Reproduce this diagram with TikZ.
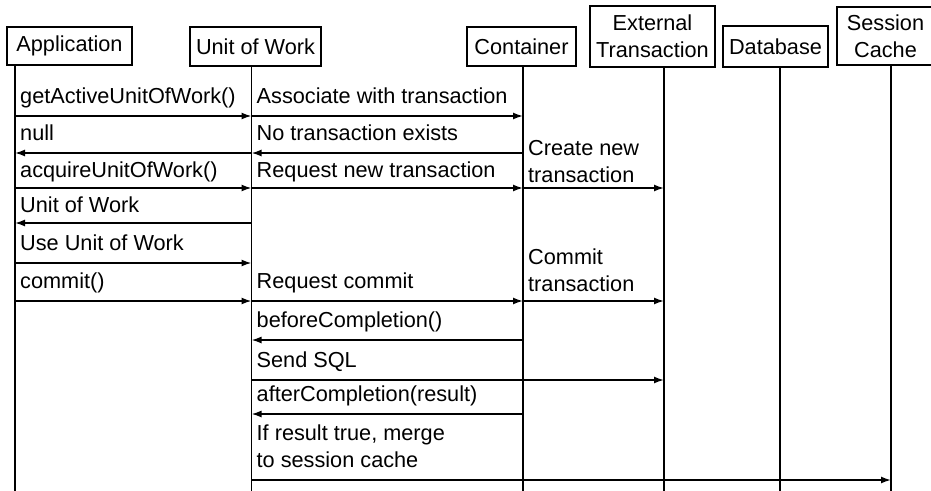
\documentclass[tikz,border=0pt]{standalone}
\usepackage{fontspec}
\setmainfont{Liberation Sans}
\usetikzlibrary{arrows.meta}
\begin{document}
\begin{tikzpicture}[x=1pt,y=-1pt,
  box/.style={draw,line width=1.6pt,inner sep=0pt,align=center,
    font=\fontsize{21.7}{27}\selectfont},
  life/.style={line width=1.6pt},
  msg/.style={line width=1.6pt,-{Latex[length=10pt,width=7pt]}},
  lbl/.style={anchor=base west,inner sep=0pt,xshift=5pt,yshift=13pt,
    font=\fontsize{21.7}{27}\selectfont},
  lbltwo/.style={anchor=south west,inner sep=0pt,xshift=5pt,align=left,
    font=\fontsize{21.7}{27}\selectfont}]
\useasboundingbox (0,0) rectangle (931,490);
% participants
\node[box,minimum width=125pt,minimum height=38pt] (app) at (69.5,46) {Application};
\node[box,minimum width=131pt,minimum height=39pt] (uow) at (255.5,46.5) {Unit of Work};
\node[box,minimum width=109pt,minimum height=39pt] (con) at (521.5,46.5) {Container};
\node[box,minimum width=125pt,minimum height=61pt] (ext) at (652.5,36.5) {External\\Transaction};
\node[box,minimum width=105pt,minimum height=41pt] (db) at (775.5,46.5) {Database};
\node[box,minimum width=97pt,minimum height=58pt] (sc) at (885.5,36) {Session\\Cache};
% lifeline x positions
\coordinate (xA) at (15,0);
\coordinate (xU) at (251.5,0);
\coordinate (xC) at (523,0);
\coordinate (xE) at (664,0);
\coordinate (xD) at (780,0);
\coordinate (xS) at (891,0);
\coordinate (bot) at (0,495);
\coordinate (lA) at (app.south -| xA);
\coordinate (lU) at (uow.south -| xU);
\coordinate (lC) at (con.south -| xC);
\coordinate (lE) at (ext.south -| xE);
\coordinate (lD) at (db.south -| xD);
\coordinate (lS) at (sc.south -| xS);
\foreach \l in {lA,lU,lC,lE,lD,lS} \draw[life] (\l) -- (\l |- bot);
% message rows
\coordinate (r1) at (0,116);
\coordinate (r2) at (0,153);
\coordinate (r3) at (0,188);
\coordinate (r4) at (0,223);
\coordinate (r5) at (0,263);
\coordinate (r6) at (0,301);
\coordinate (r7) at (0,340);
\coordinate (r8) at (0,380);
\coordinate (r9) at (0,414);
\coordinate (r10) at (0,480);
% row 1
\node[lbl] (t1a) at (lA |- r1) {getActiveUnitOfWork()};
\draw[msg] (lA |- r1) -- (lU |- r1);
\node[lbl] (t1b) at (lU |- r1) {Associate with transaction};
\draw[msg] (lU |- r1) -- (lC |- r1);
% row 2
\node[lbl] (t2a) at (lA |- r2) {null};
\draw[msg] (lU |- r2) -- (lA |- r2);
\node[lbl] (t2b) at (lU |- r2) {No transaction exists};
\draw[msg] (lC |- r2) -- (lU |- r2);
% row 3
\node[lbl,yshift=-2pt] (t3a) at (lA |- r3) {acquireUnitOfWork()};
\draw[msg] (lA |- r3) -- (lU |- r3);
\node[lbl,yshift=-2pt] (t3b) at (lU |- r3) {Request new transaction};
\draw[msg] (lU |- r3) -- (lC |- r3);
\node[lbltwo,yshift=5pt] (t3c) at (lC |- r3) {Create new\\transaction};
\draw[msg] (lC |- r3) -- (lE |- r3);
% row 4
\node[lbl,yshift=-2pt] (t4a) at (lA |- r4) {Unit of Work};
\draw[msg] (lU |- r4) -- (lA |- r4);
% row 5
\node[lbl] (t5a) at (lA |- r5) {Use Unit of Work};
\draw[msg] (lA |- r5) -- (lU |- r5);
% row 6
\node[lbl] (t6a) at (lA |- r6) {commit()};
\draw[msg] (lA |- r6) -- (lU |- r6);
\node[lbl] (t6b) at (lU |- r6) {Request commit};
\draw[msg] (lU |- r6) -- (lC |- r6);
\node[lbltwo,yshift=9pt] (t6c) at (lC |- r6) {Commit\\transaction};
\draw[msg] (lC |- r6) -- (lE |- r6);
% row 7
\node[lbl] (t7) at (lU |- r7) {beforeCompletion()};
\draw[msg] (lC |- r7) -- (lU |- r7);
% row 8
\node[lbl] (t8) at (lU |- r8) {Send SQL};
\draw[msg] (lU |- r8) -- (lE |- r8);
% row 9
\node[lbl] (t9) at (lU |- r9) {afterCompletion(result)};
\draw[msg] (lC |- r9) -- (lU |- r9);
% row 10
\node[lbltwo,yshift=12pt] (t10) at (lU |- r10) {If result true, merge\\to session cache};
\draw[msg] (lU |- r10) -- (lS |- r10);
\end{tikzpicture}
\end{document}
